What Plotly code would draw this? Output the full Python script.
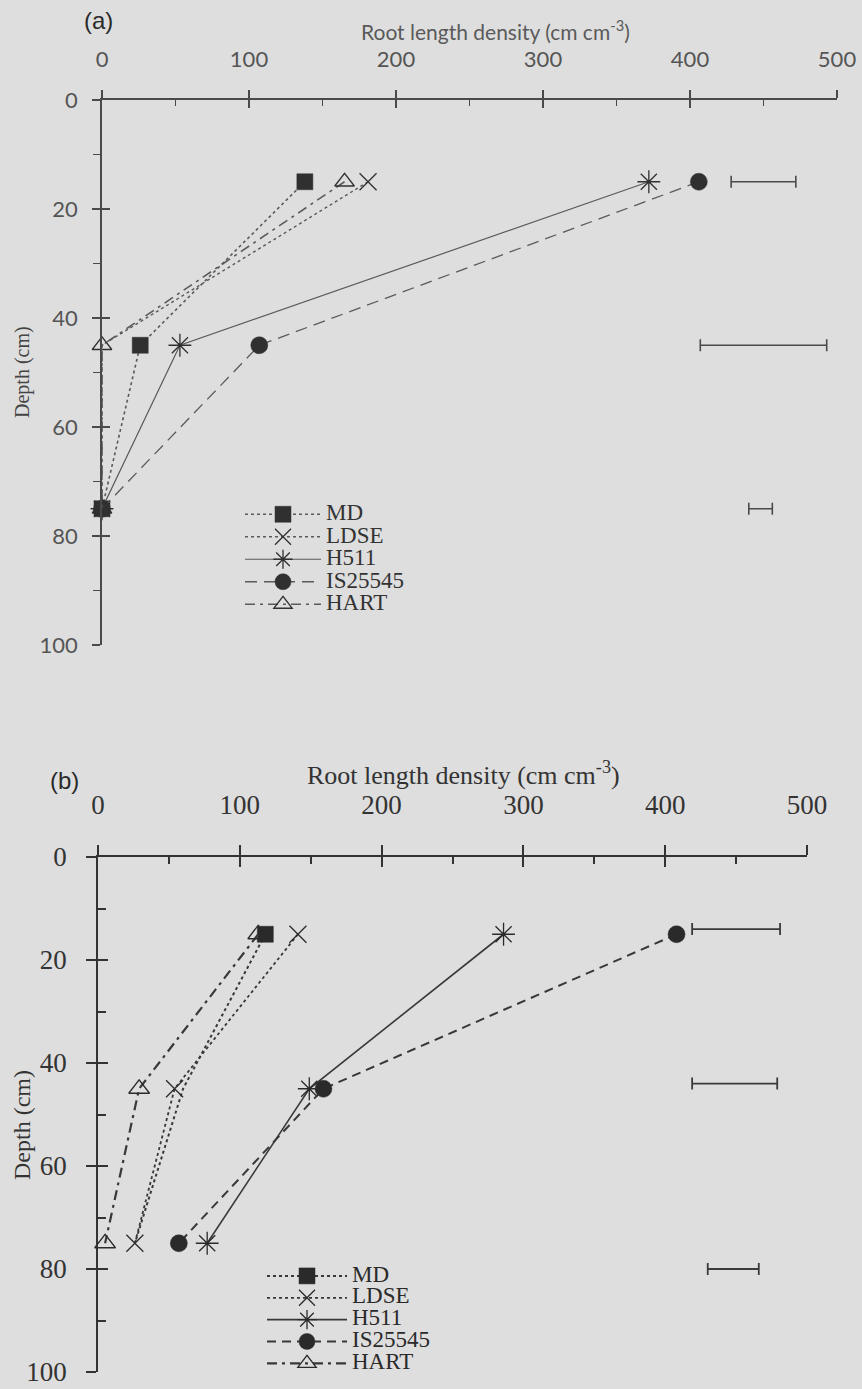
import plotly.graph_objects as go

W, H = 862, 1389

# ---------------- data ----------------
depth = [15, 45, 75]
series_names = ["MD", "LDSE", "H511", "IS25545", "HART"]

# panel (a)
a_MD = [138, 26, 0]
a_LDSE = [181, 0, 0]
a_H511 = [372, 53, 0]
a_IS25545 = [406, 107, 0]
a_HART = [165, 0, 0]
a_err_depth = [15, 45, 75]
a_err_center = [450, 450, 448]
a_err_half = [22, 43, 8]

# panel (b)
b_MD = [118, 60, 26]
b_LDSE = [141, 54, 26]
b_H511 = [286, 149, 77]
b_IS25545 = [408, 159, 57]
b_HART = [113, 29, 5]
b_err_depth = [14, 44, 80]
b_err_center = [450, 449, 448]
b_err_half = [31, 30, 18]

x_ticks = [0, 100, 200, 300, 400, 500]
y_ticks = [0, 20, 40, 60, 80, 100]


def fx(p):
    return p / W


def fy(p):
    return 1 - p / H


fig = go.Figure()

styles_a = {
    "MD": dict(dash="dot", symbol="square", size=16, lw=1.6),
    "LDSE": dict(dash="dot", symbol="x-thin-open", size=17, lw=1.4),
    "H511": dict(dash="solid", symbol="asterisk-open", size=19, lw=1.2),
    "IS25545": dict(dash="12px,7px", symbol="circle", size=17, lw=1.3),
    "HART": dict(dash="10px,5px,3px,5px", symbol="triangle-up-open", size=17, lw=1.6),
}
styles_b = {
    "MD": dict(dash="dot", symbol="square", size=16, lw=2.0),
    "LDSE": dict(dash="dot", symbol="x-thin-open", size=17, lw=1.8),
    "H511": dict(dash="solid", symbol="asterisk-open", size=19, lw=1.6),
    "IS25545": dict(dash="9px,6px", symbol="circle", size=17, lw=2.0),
    "HART": dict(dash="10px,5px,3px,5px", symbol="triangle-up-open", size=18, lw=2.2),
}

a_vals = [a_MD, a_LDSE, a_H511, a_IS25545, a_HART]
b_vals = [b_MD, b_LDSE, b_H511, b_IS25545, b_HART]

LEG_FONT = "Liberation Serif"


def add_panel(vals, styles, xa, ya, legend, line_col, mk_col, hidden):
    for name, v in zip(series_names, vals):
        st = styles[name]
        sym = st["symbol"]
        filled = sym in ("square", "circle")
        marker = dict(symbol=sym, size=st["size"], color=mk_col,
                      line=dict(color=mk_col, width=1.3 if not filled else 0.5))
        kw = {}
        if name in hidden:
            kw = dict(selectedpoints=[0], unselected=dict(marker=dict(opacity=0)),
                      selected=dict(marker=dict(opacity=1)))
        fig.add_trace(go.Scatter(
            x=v, y=depth, mode="lines+markers",
            name=f'<span style="font-size:23px">{name}</span>',
            line=dict(color=line_col, width=st["lw"], dash=st["dash"]),
            marker=marker, cliponaxis=False,
            xaxis=xa, yaxis=ya, legend=legend, **kw))


add_panel(a_vals, styles_a, "x", "y", "legend", "#5a5a5a", "#303030", ("LDSE",))
add_panel(b_vals, styles_b, "x2", "y2", "legend2", "#383838", "#2a2a2a", ("MD",))

# error bars
fig.add_trace(go.Scatter(
    x=a_err_center, y=a_err_depth, mode="markers",
    marker=dict(color="rgba(0,0,0,0)", size=2),
    error_x=dict(type="data", array=a_err_half, symmetric=True,
                 color="#4a4a4a", thickness=1.6, width=6),
    showlegend=False, xaxis="x", yaxis="y", cliponaxis=False))
fig.add_trace(go.Scatter(
    x=b_err_center, y=b_err_depth, mode="markers",
    marker=dict(color="rgba(0,0,0,0)", size=2),
    error_x=dict(type="data", array=b_err_half, symmetric=True,
                 color="#3a3a3a", thickness=1.8, width=6),
    showlegend=False, xaxis="x2", yaxis="y2", cliponaxis=False))

# empty traces to activate overlay axes (crossing ticks)
for xa, ya in (("x3", "y3"), ("x4", "y4")):
    fig.add_trace(go.Scatter(x=[None], y=[None], xaxis=xa, yaxis=ya,
                             showlegend=False, hoverinfo="skip"))

# ---------------- axes ----------------
dom_ax = [fx(102), fx(837)]
dom_ay = [fy(645), fy(100)]
dom_bx = [fx(98), fx(807)]
dom_by = [fy(1372), fy(857)]

font_a = dict(family="Lato", size=22, color="#555555")
font_b = dict(family="Liberation Serif", size=27, color="#333333")

common_x = dict(range=[0, 500], side="top", showgrid=False, zeroline=False,
                tickvals=x_ticks, fixedrange=True, automargin=False,
                ticklabeloverflow="allow")
common_y = dict(range=[100, 0], showgrid=False, zeroline=False,
                tickvals=y_ticks, fixedrange=True, automargin=False,
                ticklabeloverflow="allow")

fig.update_layout(
    xaxis=dict(**common_x, domain=dom_ax, anchor="y", showline=True,
               linecolor="#4a4a4a", linewidth=1.6, ticks="outside", ticklen=8,
               tickwidth=1.6, tickcolor="#4a4a4a", tickfont=font_a,
               ticklabelstandoff=14),
    yaxis=dict(**common_y, domain=dom_ay, anchor="x", showline=True,
               linecolor="#4a4a4a", linewidth=1.6, ticks="outside", ticklen=8,
               tickwidth=1.6, tickcolor="#4a4a4a", tickfont=font_a,
               ticklabelstandoff=10,
               minor=dict(ticks="outside", ticklen=7, tickwidth=1.4,
                          tickcolor="#4a4a4a", dtick=10, tick0=0)),
    xaxis3=dict(**common_x, overlaying="x", anchor="y3", showline=False,
                ticks="inside", ticklen=8, tickwidth=1.6, tickcolor="#4a4a4a",
                showticklabels=False,
                minor=dict(ticks="inside", ticklen=6, tickwidth=1.4,
                           tickcolor="#4a4a4a", dtick=50, tick0=0)),
    yaxis3=dict(**common_y, overlaying="y", anchor="x3", showline=False,
                ticks="inside", ticklen=8, tickwidth=1.6, tickcolor="#4a4a4a",
                showticklabels=False),
    xaxis2=dict(**common_x, domain=dom_bx, anchor="y2", showline=True,
                linecolor="#333333", linewidth=1.8, ticks="outside", ticklen=10,
                tickwidth=1.8, tickcolor="#333333", tickfont=font_b,
                ticklabelstandoff=20),
    yaxis2=dict(**common_y, domain=dom_by, anchor="x2", showline=True,
                linecolor="#333333", linewidth=1.8, ticks="outside", ticklen=10,
                tickwidth=1.8, tickcolor="#333333", tickfont=font_b,
                ticklabelstandoff=14),
    xaxis4=dict(**common_x, overlaying="x2", anchor="y4", showline=False,
                ticks="inside", ticklen=10, tickwidth=1.8, tickcolor="#333333",
                showticklabels=False,
                minor=dict(ticks="inside", ticklen=7, tickwidth=1.6,
                           tickcolor="#333333", dtick=50, tick0=0)),
    yaxis4=dict(**common_y, overlaying="y2", anchor="x4", showline=False,
                ticks="inside", ticklen=10, tickwidth=1.8, tickcolor="#333333",
                showticklabels=False,
                minor=dict(ticks="inside", ticklen=8, tickwidth=1.6,
                           tickcolor="#333333", dtick=10, tick0=0)),
)

# ---------------- legends ----------------
fig.update_layout(
    legend=dict(x=fx(240), y=fy(498), xanchor="left", yanchor="top",
                font=dict(family=LEG_FONT, size=15, color="#333333"),
                bgcolor="rgba(0,0,0,0)", itemwidth=76, tracegroupgap=0,
                itemclick=False, itemdoubleclick=False),
    legend2=dict(x=fx(262), y=fy(1260), xanchor="left", yanchor="top",
                 font=dict(family=LEG_FONT, size=14.5, color="#2a2a2a"),
                 bgcolor="rgba(0,0,0,0)", itemwidth=80, tracegroupgap=0,
                 itemclick=False, itemdoubleclick=False),
)

# ---------------- annotations ----------------
ann = [
    dict(text="(a)", x=fx(82), y=fy(20), xanchor="left", yanchor="middle",
         font=dict(family="Liberation Sans", size=24, color="#2a2a2a")),
    dict(text="Root length density (cm cm<sup>-3</sup>)", x=fx(495), y=fy(30),
         xanchor="center", yanchor="middle",
         font=dict(family="Lato", size=21, color="#5a5a5a")),
    dict(text="Depth (cm)", x=fx(22), y=fy(372), xanchor="center",
         yanchor="middle", textangle=-90,
         font=dict(family="Liberation Serif", size=20, color="#444444")),
    dict(text="(b)", x=fx(48), y=fy(780), xanchor="left", yanchor="middle",
         font=dict(family="Liberation Sans", size=24, color="#2a2a2a")),
    dict(text="Root length density (cm cm<sup>-3</sup>)", x=fx(463), y=fy(774),
         xanchor="center", yanchor="middle",
         font=dict(family="Liberation Serif", size=26, color="#333333")),
    dict(text="Depth (cm)", x=fx(22), y=fy(1125), xanchor="center",
         yanchor="middle", textangle=-90,
         font=dict(family="Liberation Serif", size=24, color="#333333")),
]
for a in ann:
    a.update(xref="paper", yref="paper", showarrow=False)
fig.update_layout(annotations=ann)

fig.update_layout(
    width=W, height=H, margin=dict(l=0, r=0, t=0, b=0, autoexpand=False),
    paper_bgcolor="#dedede", plot_bgcolor="rgba(0,0,0,0)",
    showlegend=True,
)

fig.write_html("out.html", config={"displayModeBar": False})
